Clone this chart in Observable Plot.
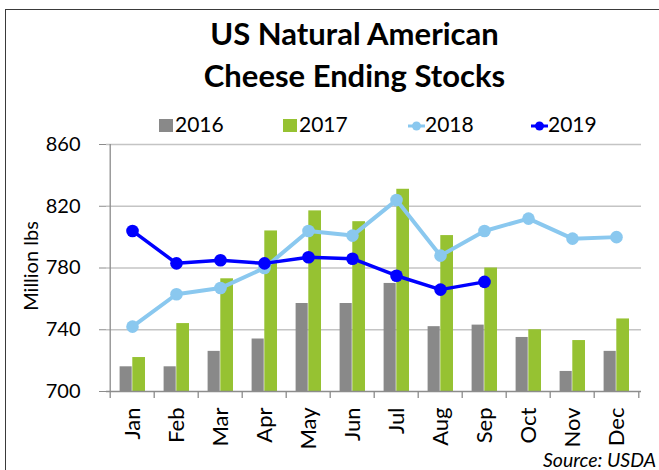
<!DOCTYPE html>
<html>
<head>
<meta charset="utf-8">
<script src="https://cdn.jsdelivr.net/npm/d3@7"></script>
<script src="https://cdn.jsdelivr.net/npm/@observablehq/plot@0.6"></script>
<style>
  html, body { margin: 0; padding: 0; background: #fff; }
  #wrap { position: relative; width: 659px; height: 470px; overflow: hidden; font-family: Lato, sans-serif; color: #000; }
  #frame { position: absolute; left: 4.5px; top: 8.5px; width: 700px; height: 500px; border-left: 1.6px solid #3a3a3a; border-top: 1.6px solid #3a3a3a; }
  .t { position: absolute; white-space: nowrap; line-height: 1; }
  .title { font-weight: 700; font-size: 31px; left: 354.5px; transform: translateX(-50%); }
  .leg { font-size: 21px; }
  .sw { position: absolute; }
  #chart { position: absolute; left: 0; top: 128px; }
  #chart svg [aria-label="y-axis tick"], #chart svg [aria-label="x-axis tick"] { stroke: #8c8c8c; }
  #chart svg g[aria-label="y-axis"] g.tick line { stroke: #8c8c8c; }
  #chart svg [aria-label="x-axis tick label"], #chart svg g[aria-label="x-axis"] text { font-size: 22px; }
</style>
</head>
<body>
<div id="wrap">
  <div id="frame"></div>
  <div class="t title" style="top:17.5px">US Natural American</div>
  <div class="t title" style="top:59.5px">Cheese Ending Stocks</div>
  <div id="legend"></div>
  <div class="t" style="font-size:20px; left:29.5px; top:266px; transform: translate(-50%,-50%) rotate(-90deg);">Million lbs</div>
  <div id="chart"></div>
  <div class="t" style="font-size:19.5px; font-style:italic; right:3px; top:450px;">Source: USDA</div>
</div>
<script>
// ---- data ----
const months = ["Jan","Feb","Mar","Apr","May","Jun","Jul","Aug","Sep","Oct","Nov","Dec"];
const v2016 = [716, 716, 726, 734, 757, 757, 770, 742, 743, 735, 713, 726];
const v2017 = [722, 744, 773, 804, 817, 810, 831, 801, 780, 740, 733, 747];
const v2018 = [742, 763, 767, 780, 804, 801, 824, 788, 804, 812, 799, 800];
const v2019 = [804, 783, 785, 783, 787, 786, 775, 766, 771];
const yTicks = [700, 740, 780, 820, 860];
const seriesNames = ["2016", "2017", "2018", "2019"];
const colors = {"2016": "#898989", "2017": "#96c232", "2018": "#8ac8ef", "2019": "#0000ff"};

const bars = months.map((m, i) => ({month: m, v16: v2016[i], v17: v2017[i]}));
const l18 = months.map((m, i) => ({month: m, v: v2018[i]}));
const l19 = v2019.map((v, i) => ({month: months[i], v}));

// ---- legend ----
const legend = document.getElementById("legend");
const legPos = {"2016": 159, "2017": 283, "2018": 408, "2019": 531};
const baseY = 132;
for (const s of seriesNames) {
  const x0 = legPos[s];
  let textX;
  if (s === "2016" || s === "2017") {
    const sq = document.createElement("div");
    sq.className = "sw";
    Object.assign(sq.style, {left: x0 + "px", top: "119px", width: "14px", height: "13px", background: colors[s]});
    legend.appendChild(sq);
    textX = x0 + 16;
  } else {
    const ns = "http://www.w3.org/2000/svg";
    const svg = document.createElementNS(ns, "svg");
    svg.setAttribute("width", 18); svg.setAttribute("height", 12);
    svg.style.position = "absolute"; svg.style.left = x0 + "px"; svg.style.top = "120px";
    const ln = document.createElementNS(ns, "line");
    ln.setAttribute("x1", 0); ln.setAttribute("x2", 17); ln.setAttribute("y1", 6); ln.setAttribute("y2", 6);
    ln.setAttribute("stroke", colors[s]); ln.setAttribute("stroke-width", 3);
    const c = document.createElementNS(ns, "circle");
    c.setAttribute("cx", 8.5); c.setAttribute("cy", 6); c.setAttribute("r", 4.5); c.setAttribute("fill", colors[s]);
    svg.appendChild(ln); svg.appendChild(c);
    legend.appendChild(svg);
    textX = x0 + 17;
  }
  const t = document.createElement("div");
  t.className = "t leg";
  t.textContent = s;
  t.style.left = textX + "px";
  t.style.top = (baseY - 0.887 * 21) + "px";
  legend.appendChild(t);
}

// ---- chart ----
const W = 659, H = 342, mL = 106, mR = 18, mT = 16, mB = 79;
const bw = (W - mL - mR) / months.length;
const axisColor = "#8c8c8c";

const chart = Plot.plot({
  width: W, height: H,
  marginLeft: mL, marginRight: mR, marginTop: mT, marginBottom: mB,
  style: {fontFamily: "Lato, sans-serif", fontSize: "20px", color: "#000", background: "transparent", overflow: "visible"},
  x: {type: "band", domain: months, padding: 0, align: 0.5, tickSize: 0, tickPadding: 16, tickRotate: -90, label: null},
  y: {domain: [yTicks[0], yTicks[yTicks.length - 1]], ticks: yTicks, tickSize: 7, tickPadding: 19, tickFormat: d => String(d), label: null},
  marks: [
    Plot.ruleY(yTicks.slice(1), {stroke: "#c4c4c4", strokeWidth: 1.3}),
    Plot.barY(bars, {x: "month", y1: yTicks[0], y2: "v16", fill: colors["2016"], insetLeft: 9.6, insetRight: bw - 22.3}),
    Plot.barY(bars, {x: "month", y1: yTicks[0], y2: "v17", fill: colors["2017"], insetLeft: 22.3, insetRight: 9}),
    Plot.ruleY([yTicks[0]], {stroke: axisColor, strokeWidth: 1.3}),
    Plot.ruleX([months[0]], {dx: -bw / 2, y1: yTicks[0], y2: yTicks[yTicks.length - 1], stroke: axisColor, strokeWidth: 1.3}),
    Plot.ruleX(months, {x: d => d, dx: -bw / 2, y1: yTicks[0], y2: yTicks[0], insetBottom: -7, stroke: axisColor, strokeWidth: 1.3}),
    Plot.ruleX([months[months.length - 1]], {dx: bw / 2, y1: yTicks[0], y2: yTicks[0], insetBottom: -7, stroke: axisColor, strokeWidth: 1.3}),
    Plot.line(l18, {x: "month", y: "v", stroke: colors["2018"], strokeWidth: 4}),
    Plot.dot(l18, {x: "month", y: "v", r: 6.3, fill: colors["2018"]}),
    Plot.line(l19, {x: "month", y: "v", stroke: colors["2019"], strokeWidth: 3.5}),
    Plot.dot(l19, {x: "month", y: "v", r: 6.3, fill: colors["2019"]})
  ]
});
document.getElementById("chart").appendChild(chart);
</script>
</body>
</html>
